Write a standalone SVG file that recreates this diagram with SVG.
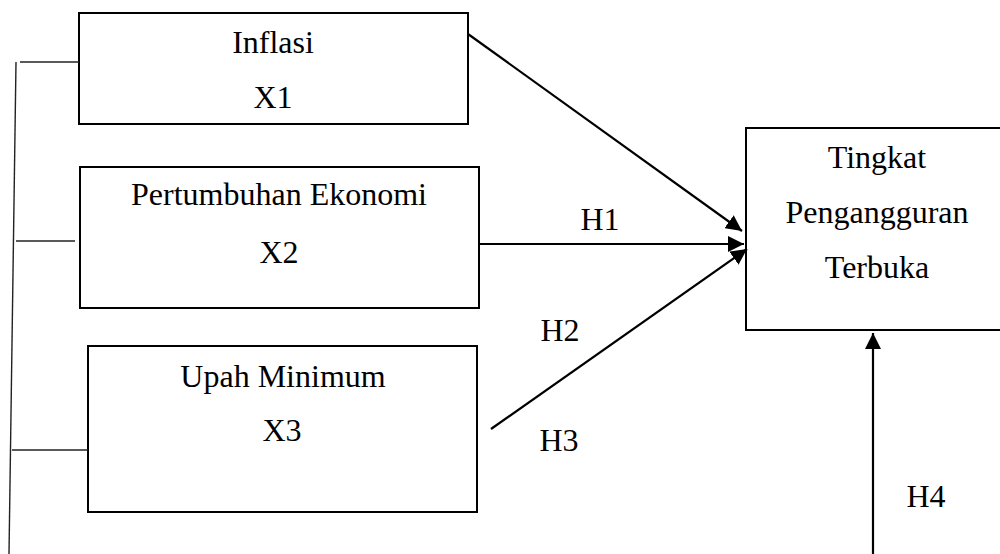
<svg xmlns="http://www.w3.org/2000/svg" width="1000" height="554" viewBox="0 0 1000 554">
<style>
.box{fill:#fff;stroke:#000;stroke-width:2}
.t{font-family:'Liberation Serif','DejaVu Serif',serif;font-size:32px;fill:#000;text-anchor:middle}
.c{stroke:#000;stroke-width:2.2;fill:none}
.thin{stroke:#222;stroke-width:1.4;fill:none}
</style>
<defs>
<marker id="ah" viewBox="0 0 10 10" refX="10" refY="5" markerWidth="16" markerHeight="16" markerUnits="userSpaceOnUse" orient="auto">
<path d="M0,0 L10,5 L0,10 z" fill="#000"/>
</marker>
</defs>
<g id="node-x1">
<rect class="box" x="79" y="13" width="389" height="111"/>
<text class="t" x="273" y="53">Inflasi</text>
<text class="t" x="273" y="108">X1</text>
</g>
<g id="node-x2">
<rect class="box" x="80" y="167" width="399" height="141"/>
<text class="t" x="279" y="205">Pertumbuhan Ekonomi</text>
<text class="t" x="279" y="263">X2</text>
</g>
<g id="node-x3">
<rect class="box" x="88" y="346" width="389" height="166"/>
<text class="t" x="283" y="387">Upah Minimum</text>
<text class="t" x="282" y="441">X3</text>
</g>
<g id="node-y">
<rect class="box" x="746" y="128" width="270" height="202"/>
<text class="t" x="877" y="168">Tingkat</text>
<text class="t" x="877" y="223">Pengangguran</text>
<text class="t" x="877" y="278">Terbuka</text>
</g>
<g id="connectors">
<line class="thin" x1="16" y1="62" x2="9" y2="554"/>
<line class="thin" x1="20" y1="62" x2="79" y2="62"/>
<line class="thin" x1="16" y1="241" x2="75" y2="241"/>
<line class="thin" x1="12" y1="450" x2="88" y2="450"/>
<line class="c" x1="468" y1="34" x2="742" y2="231" marker-end="url(#ah)"/>
<line class="c" x1="479" y1="244" x2="744" y2="244" marker-end="url(#ah)"/>
<line class="c" x1="491" y1="429" x2="747" y2="249" marker-end="url(#ah)"/>
<line class="c" x1="873" y1="554" x2="873" y2="333" marker-end="url(#ah)"/>
<text class="t" x="600" y="230">H1</text>
<text class="t" x="560" y="341" fill="#222">H2</text>
<text class="t" x="559" y="451">H3</text>
<text class="t" x="926" y="507">H4</text>
</g>
</svg>
